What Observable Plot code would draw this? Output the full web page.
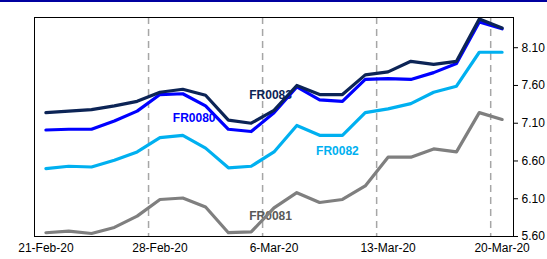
<!DOCTYPE html>
<html>
<head>
<meta charset="utf-8">
<script src="https://cdn.jsdelivr.net/npm/d3@7"></script>
<script src="https://cdn.jsdelivr.net/npm/@observablehq/plot@0.6"></script>
<style>
  html, body { margin: 0; padding: 0; background: #fff; }
  #wrap { position: relative; width: 547px; height: 259px; }
  #topline { position: absolute; left: 0; top: 0; width: 547px; height: 2px; background: #0000a0; }
  #chart { position: absolute; left: 0; top: 0; }
</style>
</head>
<body>
<div id="wrap"><div id="chart"></div><div id="topline"></div></div>
<script>
const dates = ["21-Feb-20","24-Feb-20","25-Feb-20","26-Feb-20","27-Feb-20","28-Feb-20",
  "2-Mar-20","3-Mar-20","4-Mar-20","5-Mar-20","6-Mar-20",
  "9-Mar-20","10-Mar-20","11-Mar-20","12-Mar-20","13-Mar-20",
  "16-Mar-20","17-Mar-20","18-Mar-20","19-Mar-20","20-Mar-20"];
const fr0083 = [7.24,7.26,7.28,7.33,7.39,7.51,7.55,7.47,7.14,7.10,7.27,7.60,7.48,7.48,7.74,7.78,7.92,7.88,7.92,8.48,8.36];
const fr0080 = [7.01,7.02,7.02,7.13,7.26,7.48,7.49,7.33,7.02,6.99,7.24,7.58,7.41,7.39,7.68,7.69,7.68,7.77,7.89,8.44,8.35];
const fr0082 = [6.50,6.53,6.52,6.61,6.72,6.91,6.94,6.77,6.51,6.53,6.72,7.07,6.94,6.94,7.24,7.29,7.36,7.51,7.59,8.04,8.04];
const fr0081 = [5.65,5.67,5.64,5.72,5.87,6.09,6.11,5.99,5.65,5.66,5.98,6.18,6.05,6.09,6.27,6.65,6.65,6.76,6.72,7.24,7.15];
const yTicks = [5.60,6.10,6.60,7.10,7.60,8.10];
const xTickIdx = [0,5,10,15,20];
const gridIdx = [4.5,9.5,14.5,19.5];

const seriesList = [
  {name:"FR0081", values:fr0081, color:"#7f7f7f", labelColor:"#595959", lx:9.85, ly:5.87},
  {name:"FR0082", values:fr0082, color:"#00b0f0", labelColor:"#00b0f0", lx:12.78, ly:6.73},
  {name:"FR0080", values:fr0080, color:"#0000ff", labelColor:"#0000ff", lx:6.5, ly:7.17},
  {name:"FR0083", values:fr0083, color:"#0c2456", labelColor:"#0c2456", lx:9.85, ly:7.47}
];
const rows = seriesList.flatMap(s => s.values.map((v,i) => ({i, v, s:s.name})));

const plot = Plot.plot({
  width: 547,
  height: 259,
  marginLeft: 34,
  marginRight: 34,
  marginTop: 17,
  marginBottom: 23,
  style: {fontFamily: "'Liberation Sans', Arial, sans-serif", fontSize: "12px", color: "#000", background: "transparent"},
  x: {domain: [-0.5, 20.5], ticks: xTickIdx, tickFormat: i => dates[i], tickSize: 0, tickPadding: 7, label: null},
  y: {domain: [5.6, 8.5], ticks: yTicks, tickFormat: d => d.toFixed(2), axis: "right", tickSize: 4, tickPadding: 4, label: null},
  marks: [
    Plot.ruleX(gridIdx, {stroke: "#a6a6a6", strokeWidth: 1.5, strokeDasharray: "7,5"}),
    Plot.text(seriesList, {x: "lx", y: "ly", text: "name", fill: s => s.labelColor, fontWeight: "bold", fontSize: 12}),
    ...seriesList.map(s => Plot.line(rows.filter(r => r.s === s.name), {x: "i", y: "v", stroke: s.color, strokeWidth: 3.2, strokeLinejoin: "round"})),
    Plot.frame({stroke: "#000", strokeWidth: 1})
  ]
});
document.getElementById("chart").appendChild(plot);
</script>
</body>
</html>
